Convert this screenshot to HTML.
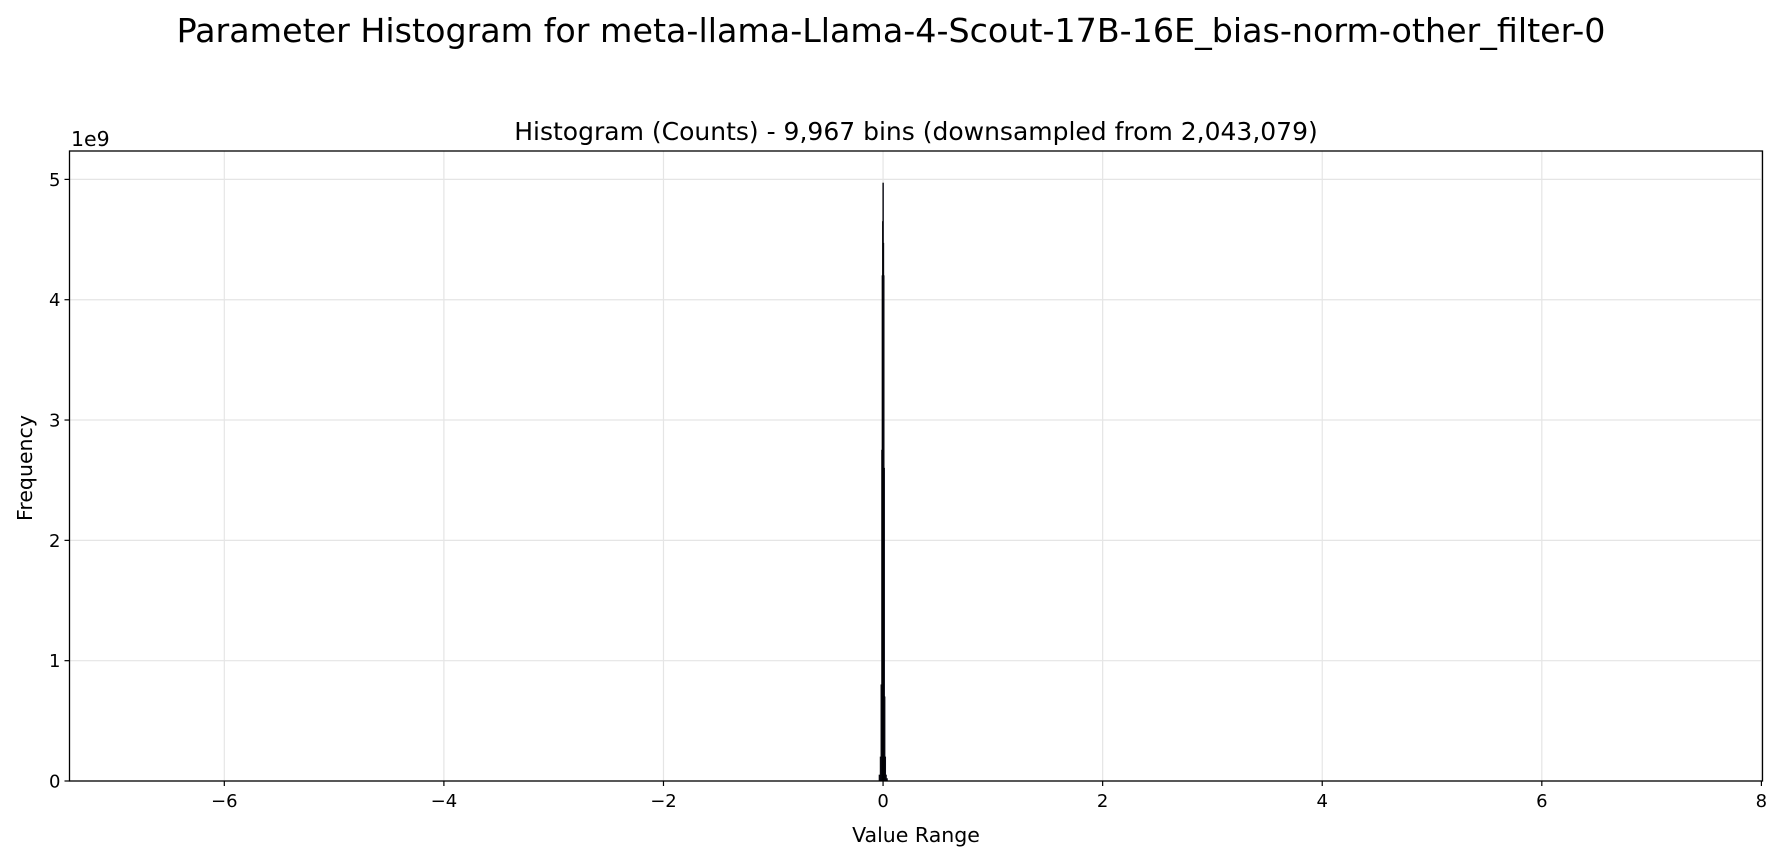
<!DOCTYPE html>
<html><head><meta charset="utf-8"><style>
body{margin:0;background:#fff;}
svg{display:block;font-family:"DejaVu Sans","Liberation Sans",sans-serif;}
</style></head><body>
<svg id="chart" width="1783" height="860" viewBox="0 0 1783 860">
<text x="891" y="42" font-size="33.3" text-anchor="middle">Parameter Histogram for meta-llama-Llama-4-Scout-17B-16E_bias-norm-other_filter-0</text>
<text x="916" y="140" font-size="25" text-anchor="middle">Histogram (Counts) - 9,967 bins (downsampled from 2,043,079)</text>
<g id="grid"></g>
<g id="bars"></g>
<g id="axes"></g>
<text x="916" y="842" font-size="20.5" text-anchor="middle">Value Range</text>
<text transform="translate(32,468) rotate(-90)" font-size="20.5" text-anchor="middle">Frequency</text>
<text x="71" y="146" font-size="20.5">1e9</text>
</svg>
<script>
const xTicks=[-6,-4,-2,0,2,4,6,8];
const yTicks=[0,1,2,3,4,5];
const binCenters=[-0.035,-0.025,-0.018,-0.012,-0.008,-0.004,-0.001,0.002,0.005,0.009,0.013,0.019,0.026,0.035];
const binCounts=[0.05,0.2,0.8,2.75,4.2,4.65,4.97,4.47,4.2,2.6,0.7,0.2,0.05,0.02];
const binWidth=0.004;
const L=69.5,R=1762.5,T=151,B=781;
const xMin=-7.41,xMax=8.01,yMax=5.236;
const sx=v=>L+(v-xMin)/(xMax-xMin)*(R-L);
const sy=v=>B-v/yMax*(B-T);
const NS="http://www.w3.org/2000/svg";
function mk(tag,attrs,parent){const e=document.createElementNS(NS,tag);for(const k in attrs)e.setAttribute(k,attrs[k]);parent.appendChild(e);return e;}
const grid=document.getElementById('grid'),bars=document.getElementById('bars'),axes=document.getElementById('axes');
xTicks.forEach(t=>{
 const g=mk('line',{x1:sx(t),x2:sx(t),y1:T,y2:B,stroke:'#e5e5e5','stroke-width':1.2},grid);
 
 
 const tk=mk('line',{x1:sx(t),x2:sx(t),y1:B,y2:B+5,stroke:'#000','stroke-width':1.2},axes);
 
 
 const lb=mk('text',{x:sx(t),y:B+26,'font-size':18,'text-anchor':'middle'},axes);
 lb.textContent=(t<0?'\u2212'+(-t):String(t));
 
 
});
yTicks.forEach(t=>{
 const g=mk('line',{x1:L,x2:R,y1:sy(t),y2:sy(t),stroke:'#e5e5e5','stroke-width':1.2},grid);
 
 
 const tk=mk('line',{x1:L-5,x2:L,y1:sy(t),y2:sy(t),stroke:'#000','stroke-width':1.2},axes);
 
 
 const lb=mk('text',{x:L-9,y:sy(t)+6.5,'font-size':18,'text-anchor':'end'},axes);
 lb.textContent=String(t);
 
 
});
binCenters.forEach((c,i)=>{
 const x0=sx(c-binWidth/2),x1=sx(c+binWidth/2);
 const r=mk('rect',{x:x0,y:sy(binCounts[i]),width:Math.max(x1-x0,0.8),height:B-sy(binCounts[i]),fill:'#1a1a4a',stroke:'#000','stroke-width':0.6},bars);
 
 
});
const fr=mk('rect',{x:L,y:T,width:R-L,height:B-T,fill:'none',stroke:'#000','stroke-width':1.3},axes);


</script>
</body></html>
